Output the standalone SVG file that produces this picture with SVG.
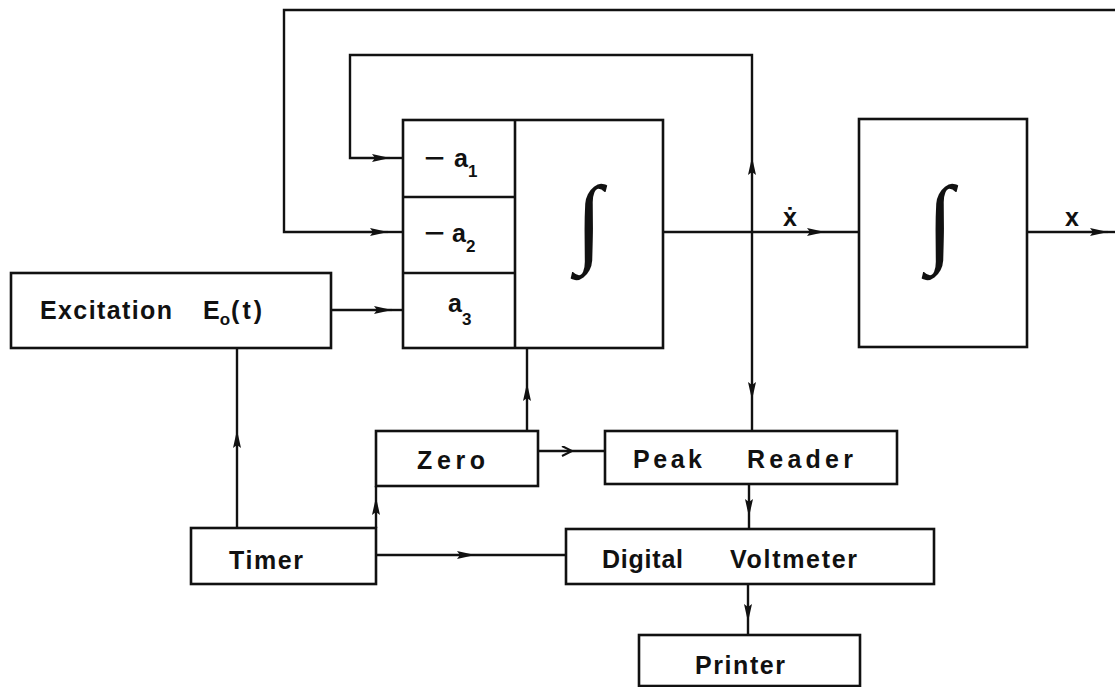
<svg xmlns="http://www.w3.org/2000/svg" width="1115" height="687" viewBox="0 0 1115 687">
<defs>
<style>
.box{fill:none;stroke:#111;stroke-width:2.6}
.ln{fill:none;stroke:#111;stroke-width:2.4}
.t{font-family:"Liberation Sans",Arial,sans-serif;font-weight:bold;font-size:25px;fill:#111}
.s{font-size:17px}
.m{font-family:"Liberation Sans",Arial,sans-serif;font-size:36px;fill:#111}
.int{font-family:"Liberation Serif","DejaVu Serif",serif;font-size:88px;fill:#111}
</style>
<marker id="ah" markerUnits="userSpaceOnUse" markerWidth="20" markerHeight="10" refX="18" refY="4" orient="auto">
<path d="M0,0 L18,4 L0,8 L3,4 z" fill="#111"/>
</marker>
<marker id="ao" markerUnits="userSpaceOnUse" markerWidth="14" markerHeight="12" refX="11" refY="5" orient="auto">
<path d="M1,0 L11,5 L1,10" fill="none" stroke="#111" stroke-width="2"/>
</marker>
</defs>
<rect width="1115" height="687" fill="#fff"/>

<g id="connectors">
<path class="ln" d="M752 232 V157" marker-end="url(#ah)"/>
<path class="ln" d="M752 157 V55 H350 V158 H390" marker-end="url(#ah)"/>
<path class="ln" d="M390 158 H403"/>
<path class="ln" d="M1115 10 H284 V232 H388" marker-end="url(#ah)"/>
<path class="ln" d="M388 232 H403"/>
<path class="ln" d="M331 310 H392" marker-end="url(#ah)"/>
<path class="ln" d="M392 310 H403"/>
<path class="ln" d="M663 232 H825" marker-end="url(#ah)"/>
<path class="ln" d="M825 232 H859"/>
<path class="ln" d="M752 232 V400" marker-end="url(#ah)"/>
<path class="ln" d="M752 400 V431"/>
<path class="ln" d="M1027 232 H1108" marker-end="url(#ah)"/>
<path class="ln" d="M1108 232 H1115"/>
<path class="ln" d="M237 528 V430" marker-end="url(#ah)"/>
<path class="ln" d="M237 430 V348"/>
<path class="ln" d="M376 528 V497" marker-end="url(#ah)"/>
<path class="ln" d="M376 497 V486"/>
<path class="ln" d="M527 431 V383" marker-end="url(#ah)"/>
<path class="ln" d="M527 383 V348"/>
<path class="ln" d="M538 451 H572" marker-end="url(#ao)"/>
<path class="ln" d="M572 451 H605"/>
<path class="ln" d="M376 555 H475" marker-end="url(#ah)"/>
<path class="ln" d="M475 555 H566"/>
<path class="ln" d="M749 484 V517" marker-end="url(#ah)"/>
<path class="ln" d="M749 517 V529"/>
<path class="ln" d="M748 584 V622" marker-end="url(#ah)"/>
<path class="ln" d="M748 622 V635"/>
<text class="t" x="783" y="226" font-size="20">ẋ</text>
<text class="t" x="1065" y="226" font-size="20">x</text>
</g>

<g id="excitation">
<rect class="box" x="11" y="273" width="320" height="75"/>
<text class="t" x="40" y="319" textLength="132" lengthAdjust="spacing">Excitation</text>
<text class="t" x="203" y="319">E<tspan class="s" dy="6">o</tspan><tspan dy="-6" dx="1" letter-spacing="3">(t)</tspan></text>
</g>

<g id="integrator1">
<rect class="box" x="403" y="120" width="260" height="228"/>
<line class="box" x1="515" y1="120" x2="515" y2="348"/>
<line class="box" x1="403" y1="197" x2="515" y2="197"/>
<line class="box" x1="403" y1="273" x2="515" y2="273"/>
<text class="m" x="424" y="170">−</text>
<text class="t" x="454" y="167">a<tspan class="s" dy="10">1</tspan></text>
<text class="m" x="424" y="245">−</text>
<text class="t" x="452" y="242">a<tspan class="s" dy="10">2</tspan></text>
<text class="t" x="448" y="312">a<tspan class="s" dy="13">3</tspan></text>
<text class="int" x="589" y="252" text-anchor="middle" transform="translate(589 232) scale(1.1 1.12) translate(-589 -232)">∫</text>
</g>

<g id="integrator2">
<rect class="box" x="859" y="119" width="168" height="228"/>
<text class="int" x="940" y="252" text-anchor="middle" transform="translate(940 232) scale(1.1 1.12) translate(-940 -232)">∫</text>
</g>

<g id="zero">
<rect class="box" x="376" y="431" width="162" height="55"/>
<text class="t" x="417" y="469" textLength="68" lengthAdjust="spacing">Zero</text>
</g>

<g id="peak-reader">
<rect class="box" x="605" y="431" width="292" height="53"/>
<text class="t" x="633" y="468" textLength="69" lengthAdjust="spacing">Peak</text>
<text class="t" x="747" y="468" textLength="106" lengthAdjust="spacing">Reader</text>
</g>

<g id="timer">
<rect class="box" x="191" y="528" width="185" height="56"/>
<text class="t" x="229" y="569" textLength="74" lengthAdjust="spacing">Timer</text>
</g>

<g id="digital-voltmeter">
<rect class="box" x="566" y="529" width="368" height="55"/>
<text class="t" x="602" y="568" textLength="81" lengthAdjust="spacing">Digital</text>
<text class="t" x="730" y="568" textLength="127" lengthAdjust="spacing">Voltmeter</text>
</g>

<g id="printer">
<rect class="box" x="639" y="635" width="221" height="51"/>
<text class="t" x="695" y="674" textLength="90" lengthAdjust="spacing">Printer</text>
</g>
</svg>
